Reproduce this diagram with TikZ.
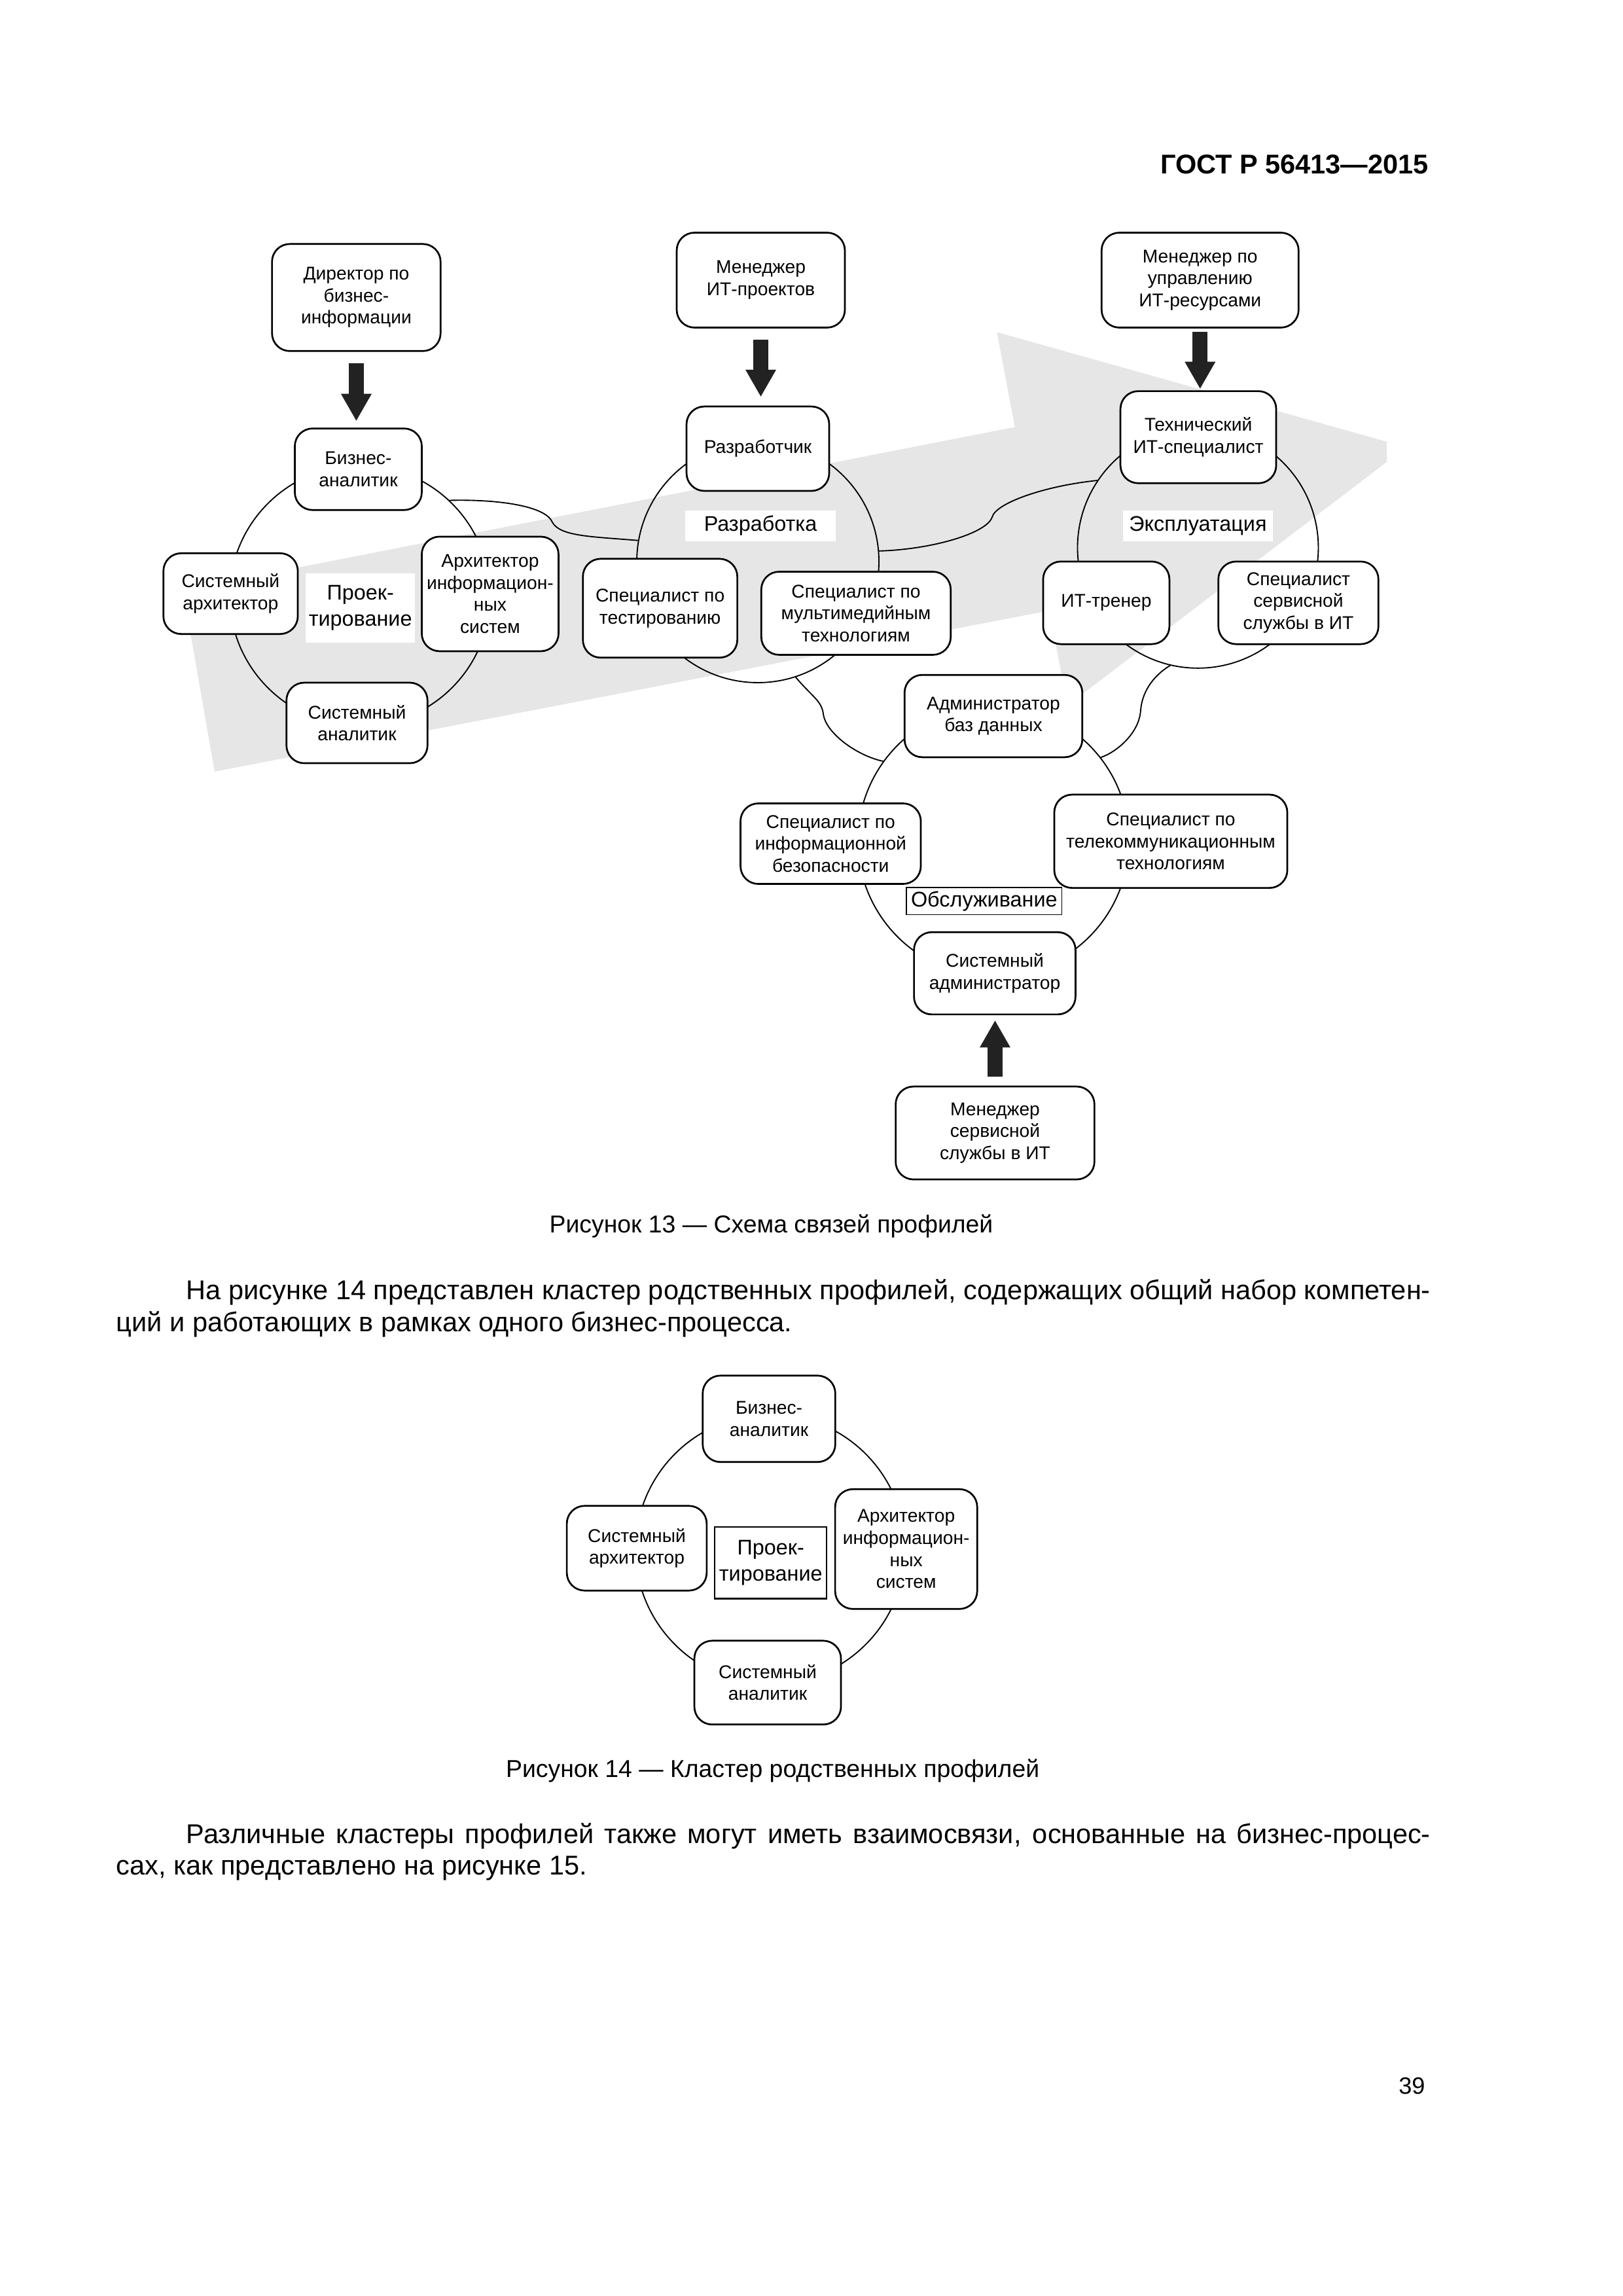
\documentclass[tikz,border=0pt]{standalone}
\usepackage{fontspec}
\setmainfont{Liberation Sans}
\usetikzlibrary{arrows.meta}
\definecolor{flow-grey}{HTML}{E6E6E6}
\definecolor{block-dark}{HTML}{222222}

\begin{document}
\begin{tikzpicture}[x=1mm, y=-1mm,
    every node/.style={font={\fontsize{6.8}{8.1}\selectfont}, inner sep=0.4mm},
    prof/.style={draw, line width=0.65pt, rounded corners=2.3mm, fill=white, align=center},
    ring/.style={draw, circle, line width=0.45pt, inner sep=0pt, outer sep=0pt},
    phase/.style={fill=white, align=center, font={\fontsize{7.8}{9.5}\selectfont}},
    link/.style={line width=0.45pt},
    blk/.style={draw=block-dark, line width=1.95mm,
      -{Triangle[width=3.98mm, length=3.47mm, line width=0pt 0 0]}},
    body/.style={font={\fontsize{10}{12}\selectfont}, anchor=base west, inner sep=0pt},
    caption/.style={font={\fontsize{9}{11}\selectfont}, anchor=base, inner sep=0pt}]
    \path[fill=white] (0,0) rectangle (210,297.05);
    \node[anchor=base east, inner sep=0pt, font={\fontsize{10}{12}\selectfont\bfseries}] (gost) at (184.9,22.5) {ГОСТ Р 56413—2015};
    % figure 13: shadow arrow
    \fill[flow-grey] (23.67,76.35) -- (131.31,55.25) -- (128.99,42.97) -- (179.41,57.14)
      -- (179.41,59.78) -- (138.11,91.27) -- (135.79,78.99) -- (27.77,99.83) -- cycle;
    % rings
    \node[ring, minimum size=33.70mm] (ringP) at (46.57,77.06) {};
    \node[ring, minimum size=31.33mm] (ringD) at (98.06,72.65) {};
    \node[ring, minimum size=31.16mm] (ringO) at (155.00,70.86) {};
    \node[ring, minimum size=35.06mm] (ringS) at (128.54,108.81) {};
    \coordinate (kinkA) at (71.47,67.57);
    \coordinate (kinkB) at (128.37,66.90);
    \coordinate (kinkC) at (106.52,92.30);
    \coordinate (kinkD) at (147.59,91.88);
    \draw[link] (ringP.47) .. controls +(6.35,-0.17) and +(-0.85,-2.12) .. (kinkA)
      .. controls +(1.02,1.86) and +(-5.93,-0.51) .. (ringD.170);
    \draw[link] (ringD.5) .. controls +(6.77,-0.17) and +(-0.68,2.12) .. (kinkB)
      .. controls +(0.51,-1.86) and +(-6.77,0.68) .. (ringO.146);
    \draw[link] (ringD.-72) .. controls +(2.12,2.54) and +(-0.25,-1.69) .. (kinkC)
      .. controls +(0.25,2.54) and +(-3.39,-0.68) .. (ringS.144);
    \draw[link] (ringO.-103) .. controls +(-2.54,1.52) and +(0.17,-2.12) .. (kinkD)
      .. controls +(-0.17,2.96) and +(2.12,-0.68) .. (ringS.38);
    % phase labels
    \node[phase, minimum width=13.8mm, minimum height=8.98mm] (lblP) at (46.63,78.64) {Проек-\\тирование};
    \node[phase, minimum width=19.48mm, minimum height=3.98mm] (lblD) at (98.40,68.00) {Разработка};
    \node[phase, minimum width=19.31mm, minimum height=3.98mm] (lblO) at (155.00,68.00) {Эксплуатация};
    \node[phase, draw, line width=0.4pt, minimum width=20.07mm, minimum height=3.50mm] (lblS) at (127.34,116.58) {Обслуживание};
    % profiles
    \node[prof, minimum width=21.81mm, minimum height=13.85mm] (dir) at (46.10,38.49) {Директор по\\бизнес-\\информации};
    \node[prof, minimum width=16.43mm, minimum height=10.55mm] (ba) at (46.36,60.71) {Бизнес-\\аналитик};
    \node[prof, minimum width=17.39mm, minimum height=10.45mm] (sa) at (29.84,76.80) {Системный\\архитектор};
    \node[prof, minimum width=17.70mm, minimum height=14.82mm] (ais) at (63.42,76.84) {Архитектор\\информацион-\\ных\\систем};
    \node[prof, minimum width=18.25mm, minimum height=10.42mm] (san) at (46.19,93.53) {Системный\\аналитик};
    \node[prof, minimum width=21.76mm, minimum height=12.28mm] (mip) at (98.44,36.24) {Менеджер\\ИТ-проектов};
    \node[prof, minimum width=18.46mm, minimum height=10.92mm] (dev) at (98.06,58.05) {Разработчик};
    \node[prof, minimum width=19.98mm, minimum height=12.79mm] (tst) at (85.41,78.69) {Специалист по\\тестированию};
    \node[prof, minimum width=24.51mm, minimum height=10.75mm] (mmt) at (110.76,79.34) {Специалист по\\мультимедийным\\технологиям};
    \node[prof, minimum width=25.49mm, minimum height=12.28mm] (mres) at (155.28,36.24) {Менеджер по\\управлению\\ИТ-ресурсами};
    \node[prof, minimum width=20.15mm, minimum height=11.91mm] (tech) at (155.05,56.56) {Технический\\ИТ-специалист};
    \node[prof, minimum width=16.34mm, minimum height=10.69mm] (trn) at (143.14,77.99) {ИТ-тренер};
    \node[prof, minimum width=20.71mm, minimum height=10.69mm] (ssd) at (168.00,77.99) {Специалист\\сервисной\\службы в ИТ};
    \node[prof, minimum width=23.00mm, minimum height=10.65mm] (dba) at (128.54,92.64) {Администратор\\баз данных};
    \node[prof, minimum width=23.33mm, minimum height=10.42mm] (isec) at (107.48,109.15) {Специалист по\\информационной\\безопасности};
    \node[prof, minimum width=30.15mm, minimum height=12.07mm] (tele) at (151.49,108.84) {Специалист по\\телекоммуникационным\\технологиям};
    \node[prof, minimum width=20.90mm, minimum height=10.64mm] (sadm) at (128.71,125.92) {Системный\\администратор};
    \node[prof, minimum width=25.72mm, minimum height=12.02mm] (msd) at (128.75,146.58) {Менеджер\\сервисной\\службы в ИТ};
    % block arrows
    \draw[blk, shorten <=1.46mm, shorten >=0.90mm] (dir.south) -- (dir.south |- ba.north);
    \draw[blk, shorten <=1.44mm, shorten >=1.18mm] (mip.south) -- (mip.south |- dev.north);
    \draw[blk, shorten <=0.45mm, shorten >=0.22mm] (mres.south) -- (mres.south |- tech.north);
    \draw[blk, shorten <=1.18mm, shorten >=0.70mm] (msd.north) -- (msd.north |- sadm.south);
    \node[caption] (cap13) at (99.79,159.53) {Рисунок 13 — Схема связей профилей};
    % text between figures
    \node[body] (par1a) at (24.05,168.14) {\makebox[160.97mm][s]{На рисунке 14 представлен кластер родственных профилей, содержащих общий набор компетен-}};
    \node[body] (par1b) at (14.99,172.26) {ций и работающих в рамках одного бизнес-процесса.};
    % figure 14
    \node[ring, minimum size=34.89mm] (ringF) at (99.67,200.43) {};
    \node[phase, draw, line width=0.5pt, minimum width=14.48mm, minimum height=9.31mm] (flbl) at (99.73,202.17) {Проек-\\тирование};
    \node[prof, minimum width=17.16mm, minimum height=11.18mm] (fba) at (99.50,183.56) {Бизнес-\\аналитик};
    \node[prof, minimum width=18.10mm, minimum height=10.96mm] (fsa) at (82.39,200.30) {Системный\\архитектор};
    \node[prof, minimum width=18.38mm, minimum height=15.50mm] (fais) at (117.25,200.41) {Архитектор\\информацион-\\ных\\систем};
    \node[prof, minimum width=18.97mm, minimum height=10.84mm] (fsan) at (99.33,217.69) {Системный\\аналитик};
    \node[caption] (cap14) at (99.98,229.90) {Рисунок 14 — Кластер родственных профилей};
    \node[body] (par2a) at (24.05,238.51) {\makebox[160.97mm][s]{Различные кластеры профилей также могут иметь взаимосвязи, основанные на бизнес-процес-}};
    \node[body] (par2b) at (14.99,242.52) {сах, как представлено на рисунке 15.};
    \node[anchor=base east, inner sep=0pt, font={\fontsize{8.7}{10}\selectfont}] (pageno) at (184.45,270.90) {39};
\end{tikzpicture}
\end{document}
